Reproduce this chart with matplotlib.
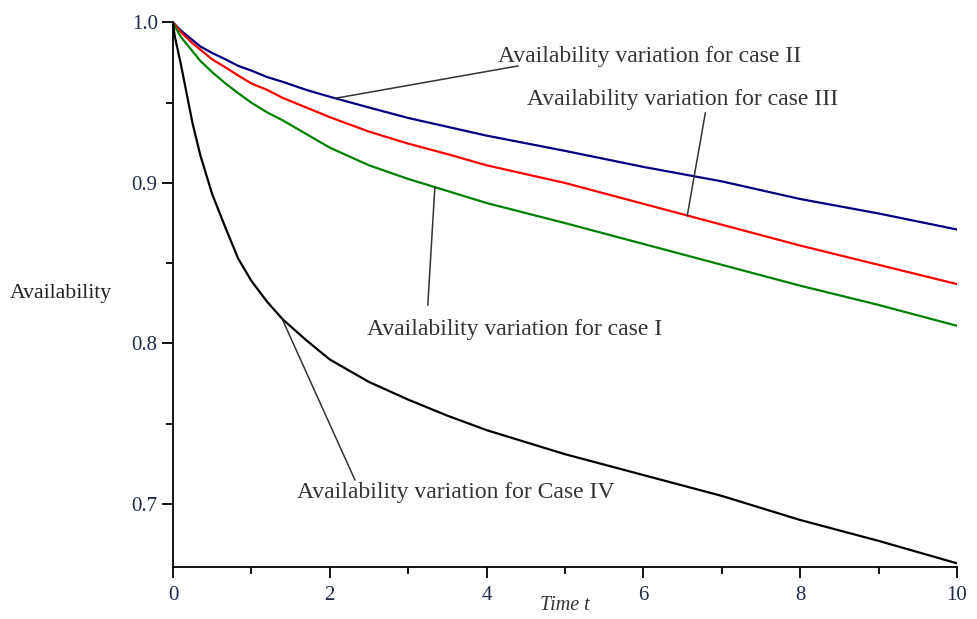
import matplotlib
matplotlib.use("Agg")
import matplotlib.pyplot as plt
from matplotlib.ticker import MultipleLocator
import numpy as np

plt.rcParams['font.family'] = ['Liberation Serif', 'DejaVu Serif']

# values
time = [0, 0.02, 0.1, 0.25, 0.35, 0.5, 0.67, 0.83, 1, 1.2, 1.4, 1.7, 2, 2.5,
        3, 3.5, 4, 5, 6, 7, 8, 9, 10]
case_1 = [1.0, 0.998, 0.991, 0.982, 0.976, 0.969, 0.962, 0.956, 0.950, 0.944,
          0.939, 0.9305, 0.922, 0.911, 0.9025, 0.895, 0.8875, 0.875, 0.862, 0.849,
          0.836, 0.824, 0.811]
case_2 = [1.0, 0.999, 0.995, 0.989, 0.985, 0.981, 0.977, 0.973, 0.970, 0.966,
          0.963, 0.958, 0.9537, 0.947, 0.9405, 0.935, 0.9295, 0.920, 0.910, 0.901,
          0.890, 0.881, 0.871]
case_3 = [1.0, 0.999, 0.994, 0.987, 0.983, 0.977, 0.972, 0.967, 0.962, 0.958,
          0.953, 0.947, 0.941, 0.932, 0.9245, 0.918, 0.911, 0.900, 0.887, 0.874,
          0.861, 0.849, 0.837]
case_4 = [1.0, 0.992, 0.974, 0.937, 0.917, 0.893, 0.872, 0.853, 0.839, 0.826,
          0.815, 0.802, 0.790, 0.776, 0.765, 0.755, 0.746, 0.731, 0.718, 0.705,
          0.690, 0.677, 0.663]

x_ticks = [0, 2, 4, 6, 8, 10]
y_ticks = [0.7, 0.8, 0.9, 1.0]

fig = plt.figure(figsize=(9.78, 6.19), dpi=100)
ax = fig.add_axes([0.1769, 0.0832, 0.8016, 0.8805])

ax.plot(time, case_2, color='#000080', lw=1.6)
ax.plot(time, case_3, color='#ff0000', lw=1.6)
ax.plot(time, case_1, color='#008000', lw=1.6)
ax.plot(time, case_4, color='black', lw=1.6)

ax.set_xlim(0, 10)
ax.set_ylim(0.6604, 1.0)
ax.set_xticks(x_ticks)
ax.set_xticklabels([str(v) for v in x_ticks])
ax.set_yticks(y_ticks)
ax.set_yticklabels(['%.1f' % v for v in y_ticks])
ax.xaxis.set_minor_locator(MultipleLocator(1))
ax.yaxis.set_minor_locator(MultipleLocator(0.05))

for s in ['top', 'right']:
    ax.spines[s].set_visible(False)
for s in ['left', 'bottom']:
    ax.spines[s].set_linewidth(1.3)

tick_color = '#1e2a4a'
ax.tick_params(which='major', direction='out', length=8, width=1.3,
               labelsize=15, labelcolor=tick_color, pad=5)
ax.tick_params(which='minor', direction='out', length=5, width=1.3)
ax.tick_params(axis='y', which='major', pad=3)

fig.text(565 / 978, 1 - 605 / 619, 'Time t', fontsize=14.5, style='italic',
         color='#333333', ha='center', va='center')
fig.text(10 / 978, 1 - 293 / 619, 'Availability', fontsize=15.7,
         ha='left', va='center', color='#222222')

# annotation labels: (text, series, curve t, line end, text position)
labels = [
    ('Availability variation for case II', case_2, 2.07, (4.40, 0.9729), (4.15, 0.9791)),
    ('Availability variation for case III', case_3, 6.56, (6.79, 0.9436), (4.52, 0.9517)),
    ('Availability variation for case I', case_1, 3.34, (3.25, 0.8240), (2.47, 0.8084)),
    ('Availability variation for Case IV', case_4, 1.39, (2.32, 0.7150), (1.58, 0.7069)),
]
for text, series, tc, end, pos in labels:
    yc = np.interp(tc, time, series)
    ax.plot([tc, end[0]], [yc, end[1]], color='#333333', lw=1.1)
    ax.text(pos[0], pos[1], text, fontsize=17, color='#333333',
            ha='left', va='center')

fig.savefig('out.png', dpi=100)
